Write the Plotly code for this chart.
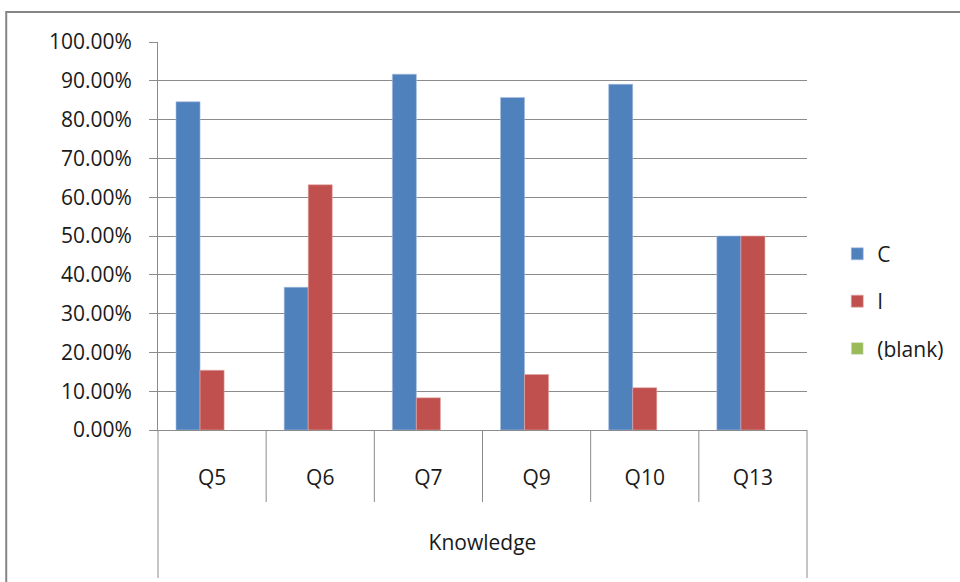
import plotly.graph_objects as go

# Knowledge questions and share of answers per response type
questions = ["Q5", "Q6", "Q7", "Q9", "Q10", "Q13"]
group_label = "Knowledge"
correct = [0.846, 0.368, 0.917, 0.857, 0.891, 0.50]
incorrect = [0.154, 0.632, 0.083, 0.143, 0.109, 0.50]
blank = [None, None, None, None, None, None]

y_ticks = [0.0, 0.1, 0.2, 0.3, 0.4, 0.5, 0.6, 0.7, 0.8, 0.9, 1.0]

FONT = "Open Sans"
GRID = "#8c8c8c"

fig = go.Figure()
fig.add_trace(go.Bar(name="C", x=questions, y=correct, marker_color="#4F81BD",
                     marker_line=dict(color="#a7bfe0", width=0.6), legendgroup="c"))
fig.add_trace(go.Bar(name="I", x=questions, y=incorrect, marker_color="#C0504D",
                     marker_line=dict(color="#e2a8a6", width=0.6), legendgroup="i"))
fig.add_trace(go.Bar(name="(blank)", x=questions, y=blank, marker_color="#9BBB59",
                     showlegend=True, legendgroup="b"))

fig.update_layout(
    width=960, height=582,
    margin=dict(l=158, r=152, t=42, b=152),
    paper_bgcolor="white", plot_bgcolor="white",
    barmode="group", bargap=0.333, bargroupgap=0,
    font=dict(family=FONT, size=21, color="#1a1a1a"),
    showlegend=True,
    legend=dict(x=1.045, y=0.332, xanchor="left", yanchor="middle",
                font=dict(size=21), tracegroupgap=17, itemwidth=30,
                bgcolor="rgba(0,0,0,0)"),
)

fig.update_yaxes(
    range=[0, 1], tickvals=y_ticks, tickformat=".2%",
    showgrid=True, gridcolor=GRID, gridwidth=1,
    showline=True, linecolor=GRID, linewidth=1,
    ticks="outside", ticklen=8, tickcolor=GRID,
    ticklabelstandoff=13, zeroline=False,
    tickfont=dict(size=21),
)

fig.update_xaxes(
    type="category", range=[-0.5, len(questions) - 0.5],
    showgrid=False, zeroline=False,
    showline=True, linecolor=GRID, linewidth=1,
    ticks="", ticklabelstandoff=29,
    tickfont=dict(size=21),
    title=dict(text=group_label, standoff=45, font=dict(size=21)),
)

# dividers between the category labels
for i in range(len(questions) - 1):
    fig.add_shape(type="line", xref="x", yref="paper",
                  x0=i + 0.5, x1=i + 0.5, y0=0, y1=-72 / 388,
                  line=dict(color=GRID, width=1))

# left and right edges of the category-label box
for xp in (0, 1):
    fig.add_shape(type="line", xref="paper", yref="paper",
                  x0=xp, x1=xp, y0=0, y1=-148 / 388,
                  line=dict(color=GRID, width=1))

# chart-area border
fig.add_shape(type="rect", xref="paper", yref="paper",
              x0=-152 / 650, x1=820 / 650, y0=418 / 388, y1=-170 / 388,
              line=dict(color="#868686", width=2), fillcolor="rgba(0,0,0,0)",
              layer="below")

fig.write_html("out.html")
